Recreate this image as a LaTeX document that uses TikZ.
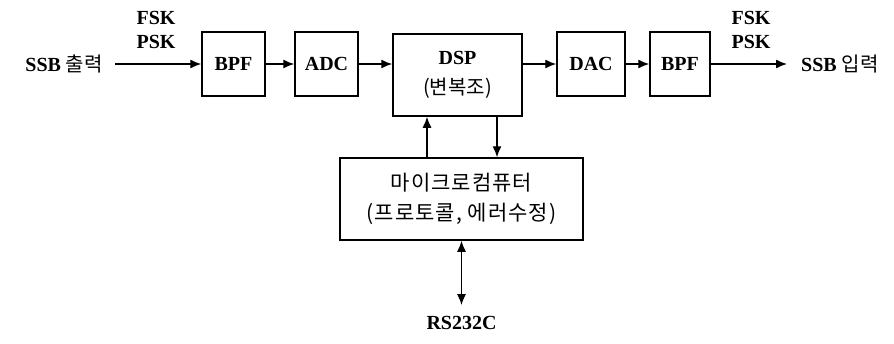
\documentclass[tikz,border=0pt]{standalone}
\usepackage{fontspec}
\setmainfont{Liberation Serif}
\newfontfamily\kr{Noto Sans CJK KR}
\newfontfamily\krwide[LetterSpace=5]{Noto Sans CJK KR}
\usetikzlibrary{arrows.meta}
\tikzset{
  blk/.style={draw, line width=1.5pt, inner sep=0pt, align=center,
    font=\bfseries\fontsize{20}{30}\selectfont},
  lbl/.style={inner sep=0pt, align=center,
    font=\bfseries\fontsize{20}{24}\selectfont},
  tip/.tip={Latex[length=11pt,width=9pt]},
  sig/.style={line width=1.3pt, -tip},
}

\begin{document}
\begin{tikzpicture}[x=1pt,y=-1pt]
    \useasboundingbox (0,0) rectangle (894,343);
    % signal chain
    \node[blk, minimum width=63, minimum height=64] (bpfa) at (233.5,64) {BPF};
    \node[blk, minimum width=63, minimum height=64] (adc) at (326.5,64) {ADC};
    \node[blk, minimum width=129, minimum height=82] (dsp) at (457.5,75) {DSP\\{\kr\mdseries (변복조)}};
    \node[blk, minimum width=68, minimum height=64] (dac) at (591,64) {DAC};
    \node[blk, minimum width=60, minimum height=64] (bpfb) at (680,64) {BPF};
    \node[blk, minimum width=243, minimum height=82, font=\fontsize{21}{30}\selectfont] (micro) at (461.5,199)
      {\krwide 마이크로컴퓨터\\{\krwide (프로토콜, 에러수정)}};
    % labels
    \node[lbl, anchor=east] (src) at (103,64) {SSB {\kr\mdseries 출력}};
    \node[lbl, anchor=west] (dst) at (801,64) {SSB {\kr\mdseries 입력}};
    \node[lbl] (moda) at (156,30) {FSK\\PSK};
    \node[lbl] (modb) at (751,30) {FSK\\PSK};
    \node[lbl] (rs) at (461.5,323) {RS232C};
    % connectors
    \draw[sig, shorten <=12pt] (src.east) -- (bpfa.west);
    \draw[sig] (bpfa) -- (adc);
    \draw[sig] (adc.east) -- (adc.east -| dsp.west);
    \draw[sig] (dsp.east |- dac.west) -- (dac.west);
    \draw[sig] (dac) -- (bpfb);
    \draw[sig, shorten >=14pt] (bpfb.east) -- (dst.west);
    \draw[sig] ([xshift=-34.5pt]micro.north) -- ([xshift=-34.5pt]micro.north |- dsp.south);
    \draw[sig] ([xshift=39.5pt]dsp.south) -- ([xshift=39.5pt]dsp.south |- micro.north);
    \draw[sig, tip-tip, shorten >=11pt] (micro.south) -- (rs.north);
\end{tikzpicture}
\end{document}
